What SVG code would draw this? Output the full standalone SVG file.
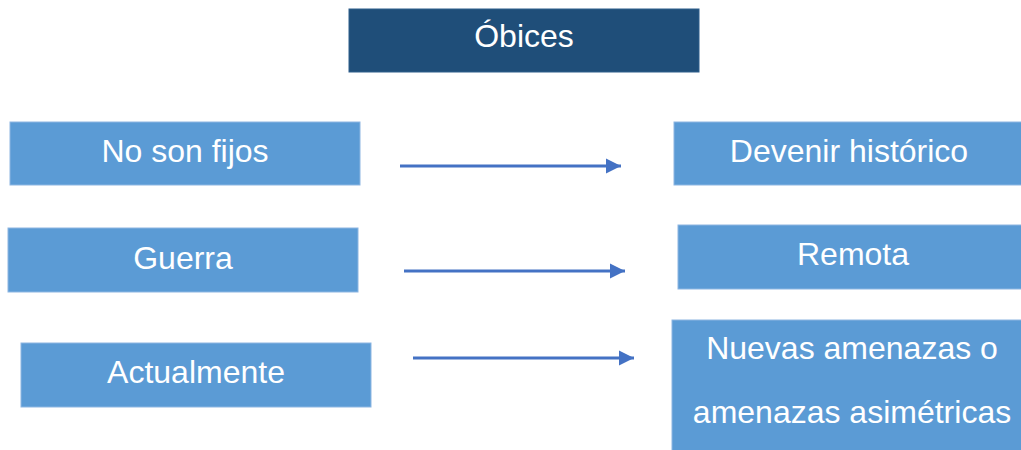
<svg xmlns="http://www.w3.org/2000/svg" width="1021" height="450" viewBox="0 0 1021 450">
  <style>
    .box { fill: #5B9BD5; stroke: #8DB6E2; stroke-width: 1; }
    .title { fill: #1F4E79; stroke: #2E5E8C; stroke-width: 1; }
    .lbl { font-family: "Liberation Sans", Arial, sans-serif; font-size: 32px; fill: #FFFFFF; text-anchor: middle; }
    .conn { stroke: #4472C4; stroke-width: 3; fill: none; marker-end: url(#arrow); }
  </style>
  <defs>
    <marker id="arrow" markerUnits="userSpaceOnUse" markerWidth="16" markerHeight="16" refX="15" refY="8" orient="auto">
      <path d="M0,0.5 L15,8 L0,15.5 Z" fill="#4472C4"/>
    </marker>
  </defs>
  <rect width="1021" height="450" fill="#FFFFFF"/>

  <g id="node-obices">
    <rect class="title" x="349" y="9" width="350" height="63"/>
    <text class="lbl" x="524" y="47">Óbices</text>
  </g>

  <g id="node-no-son-fijos">
    <rect class="box" x="10" y="122" width="350" height="63"/>
    <text class="lbl" x="185" y="162">No son fijos</text>
  </g>
  <g id="node-guerra">
    <rect class="box" x="8" y="228" width="350" height="64"/>
    <text class="lbl" x="183" y="269">Guerra</text>
  </g>
  <g id="node-actualmente">
    <rect class="box" x="21" y="343" width="350" height="64"/>
    <text class="lbl" x="196" y="383">Actualmente</text>
  </g>

  <g id="node-devenir">
    <rect class="box" x="674" y="122" width="348" height="63"/>
    <text class="lbl" x="849" y="162">Devenir histórico</text>
  </g>
  <g id="node-remota">
    <rect class="box" x="678" y="225" width="344" height="64"/>
    <text class="lbl" x="853" y="265">Remota</text>
  </g>
  <g id="node-nuevas">
    <rect class="box" x="672" y="320" width="350" height="131"/>
    <text class="lbl" x="852" y="359">Nuevas amenazas o</text>
    <text class="lbl" x="852" y="423">amenazas asimétricas</text>
  </g>

  <g id="connectors">
    <line class="conn" x1="400" y1="166" x2="621" y2="166"/>
    <line class="conn" x1="404" y1="271" x2="625" y2="271"/>
    <line class="conn" x1="413" y1="358" x2="634" y2="358"/>
  </g>
</svg>
